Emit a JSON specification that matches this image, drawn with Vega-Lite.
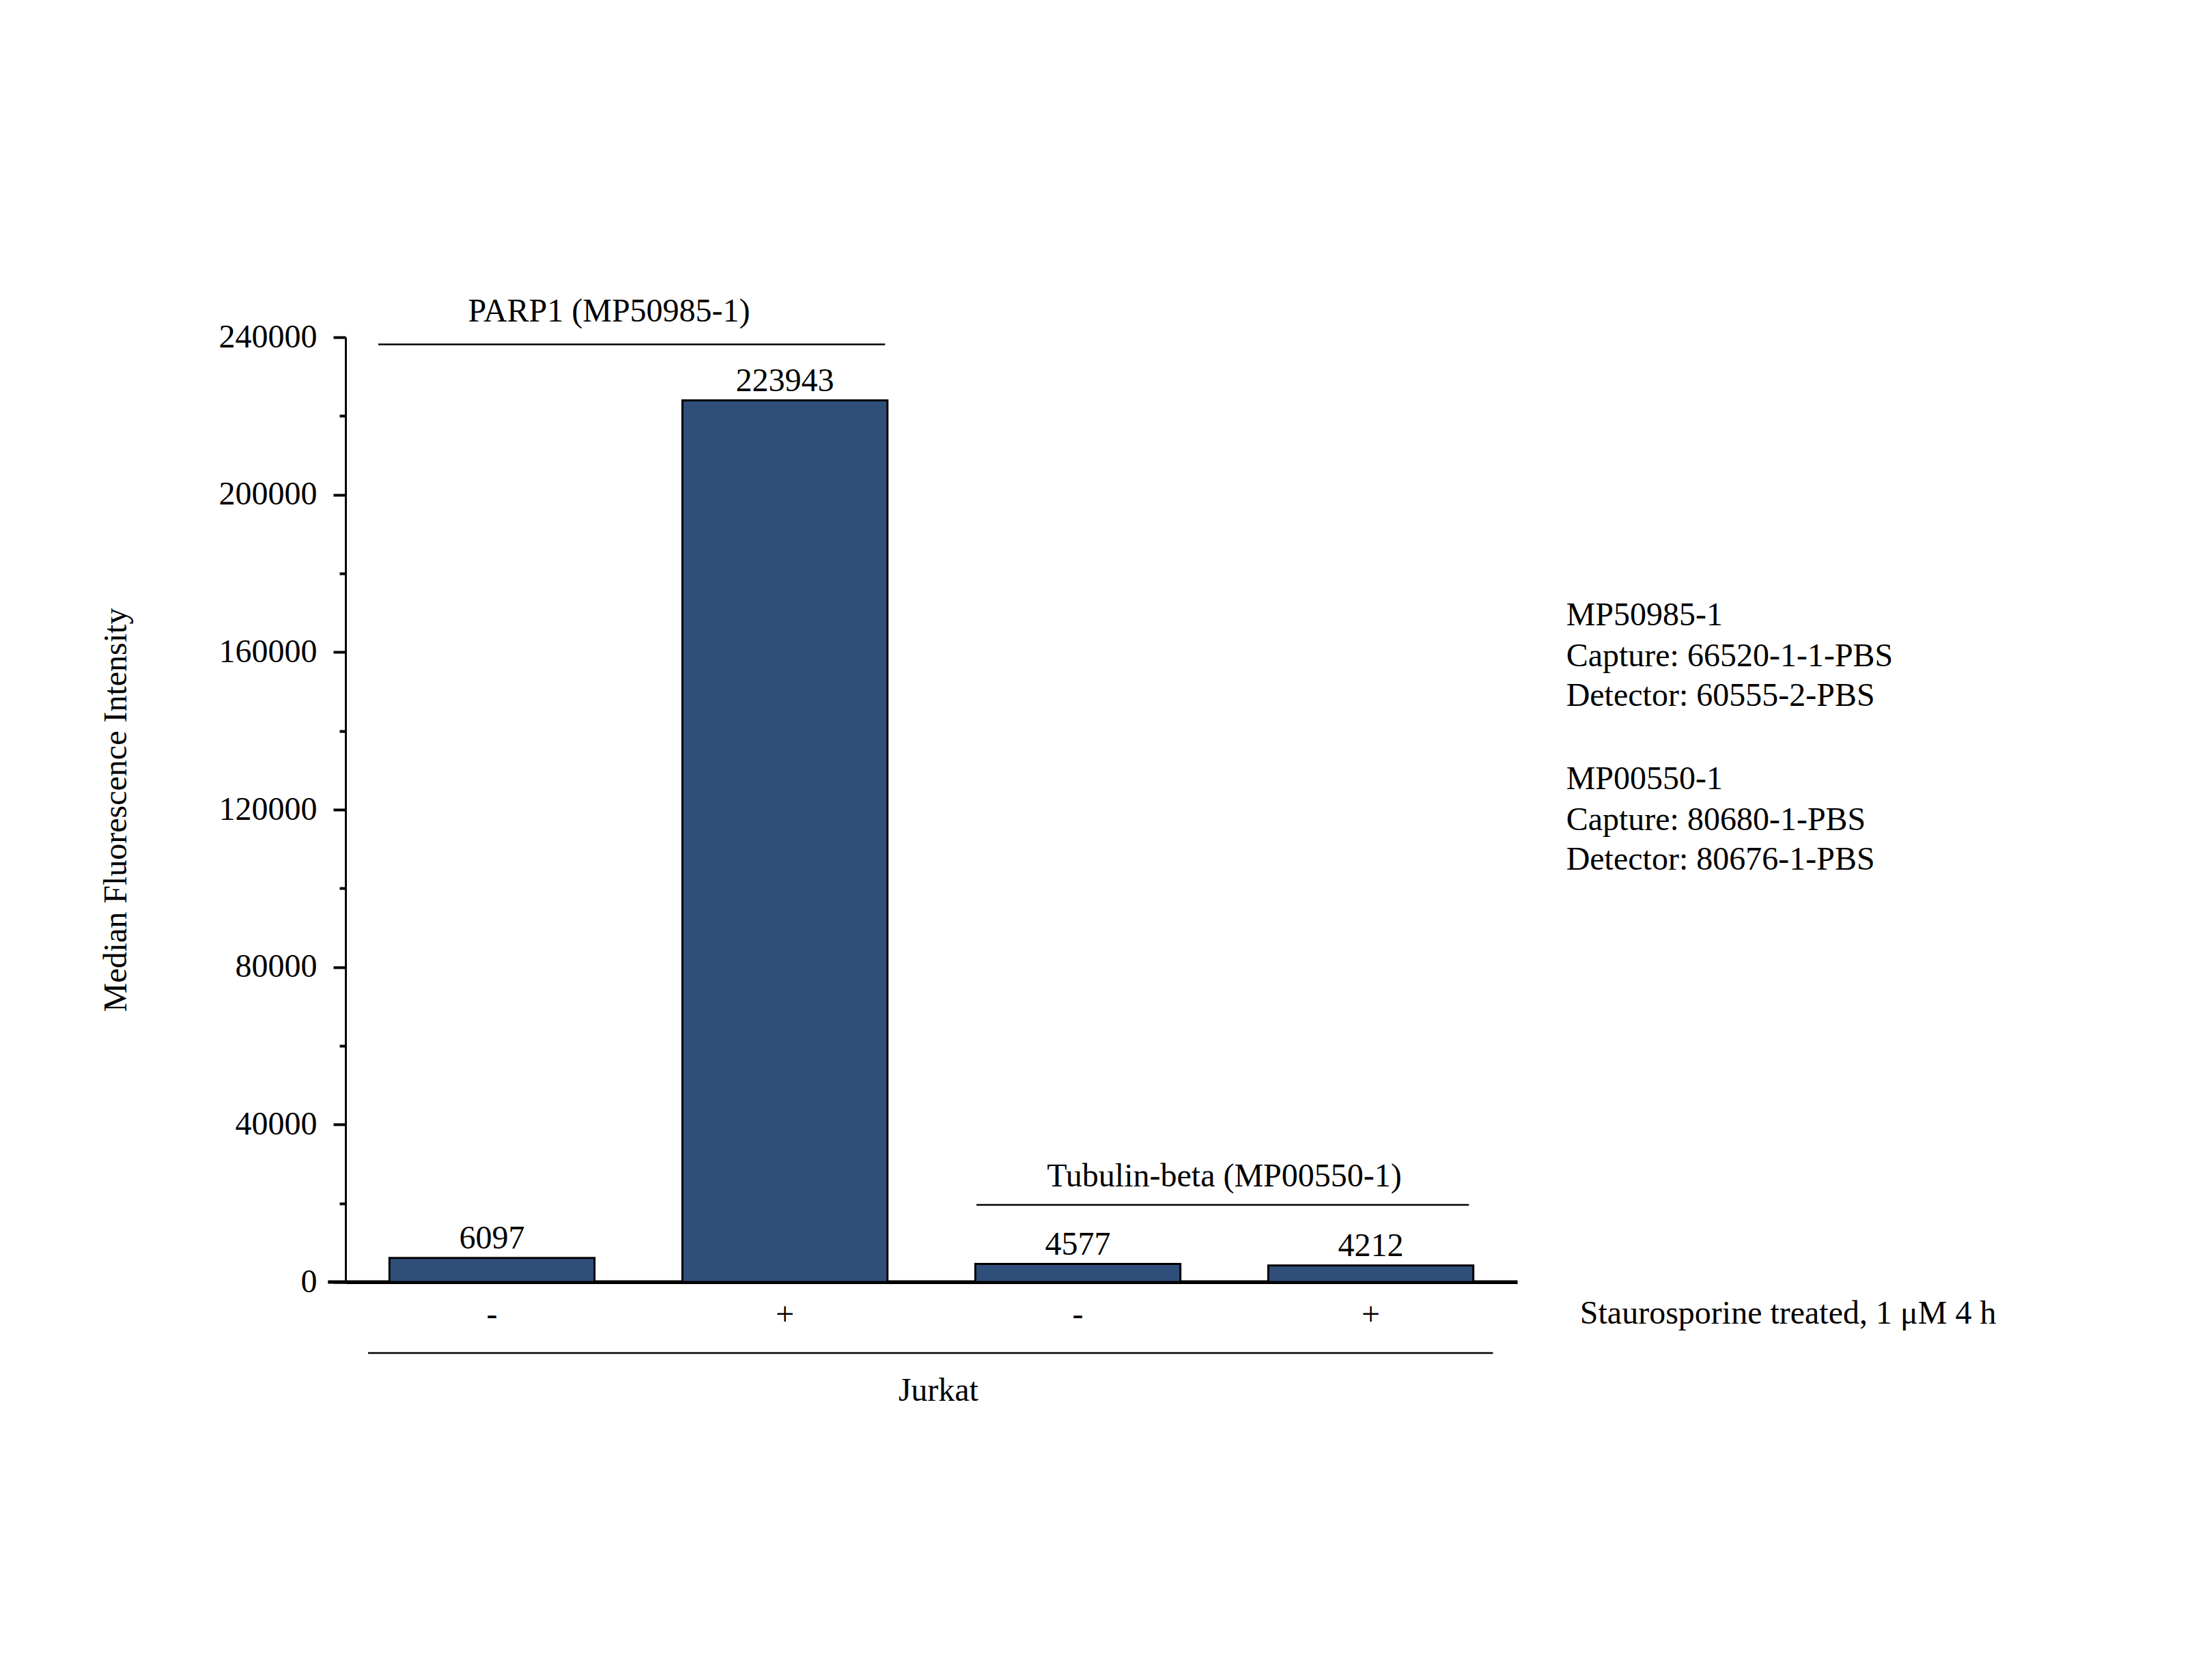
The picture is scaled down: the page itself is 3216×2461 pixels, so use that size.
{
  "$schema": "https://vega.github.io/schema/vega-lite/v6.json",
  "width": 1716,
  "height": 1384,
  "autosize": {"type": "none"},
  "padding": {"left": 506, "top": 494, "right": 994, "bottom": 583},
  "background": "white",
  "config": {
    "view": {"stroke": null},
    "font": "Liberation Serif",
    "text": {"font": "Liberation Serif", "fontSize": 48, "color": "black"}
  },
  "datasets": {
    "bars": [
      {"sample": "PARP1 -", "mfi": 6097},
      {"sample": "PARP1 +", "mfi": 223943},
      {"sample": "Tubulin -", "mfi": 4577},
      {"sample": "Tubulin +", "mfi": 4212}
    ],
    "center_text": [
      {"label": "PARP1 (MP50985-1)", "ax": 0.9, "ay": 246400},
      {"label": "Tubulin-beta (MP00550-1)", "ax": 3.0, "ay": 26700},
      {"label": "Jurkat", "ax": 2.024, "ay": -27730}
    ],
    "left_text": [
      {"label": "MP50985-1", "ax": 4.167, "ay": 169300},
      {"label": "Capture: 66520-1-1-PBS", "ax": 4.167, "ay": 158900},
      {"label": "Detector: 60555-2-PBS", "ax": 4.167, "ay": 148700},
      {"label": "MP00550-1", "ax": 4.167, "ay": 127700},
      {"label": "Capture: 80680-1-PBS", "ax": 4.167, "ay": 117300},
      {"label": "Detector: 80676-1-PBS", "ax": 4.167, "ay": 107100},
      {"label": "Staurosporine treated, 1 μM 4 h", "ax": 4.214, "ay": -8145}
    ],
    "rules": [
      {"ax": 0.112, "ax2": 1.842, "ay": 238180},
      {"ax": 2.154, "ax2": 3.835, "ay": 19580},
      {"ax": 0.077, "ax2": 3.917, "ay": -18025}
    ],
    "baseline": [
      {"ax": -0.06, "ax2": 4.0, "ay": 0}
    ]
  },
  "resolve": {"scale": {"x": "independent"}},
  "layer": [
    {
      "data": {"name": "baseline"},
      "mark": {"type": "rule", "color": "black", "strokeWidth": 5},
      "encoding": {
        "x": {"field": "ax", "type": "quantitative", "scale": {"domain": [0, 4], "nice": false, "zero": false}, "axis": null},
        "x2": {"field": "ax2"},
        "y": {
          "field": "ay", "type": "quantitative",
          "scale": {"domain": [0, 240000], "nice": false, "zero": false},
          "axis": {
            "values": [0, 20000, 40000, 60000, 80000, 100000, 120000, 140000, 160000, 180000, 200000, 220000, 240000],
            "format": "d",
            "labelExpr": "datum.value % 40000 === 0 ? datum.label : ''",
            "tickSize": {"condition": {"test": "datum.value % 40000 === 0", "value": 18}, "value": 9},
            "tickWidth": 4,
            "tickColor": "black",
            "domainColor": "black",
            "domainWidth": 3,
            "grid": false,
            "labelFontSize": 48,
            "labelFont": "Liberation Serif",
            "labelColor": "black",
            "labelPadding": 24,
            "title": "Median Fluorescence Intensity",
            "titleFont": "Liberation Serif",
            "titleFontSize": 48,
            "titleFontWeight": "normal",
            "titleColor": "black",
            "titlePadding": 126
          }
        }
      }
    },
    {
      "data": {"name": "bars"},
      "mark": {"type": "bar", "color": "#2f4f7a", "stroke": "black", "strokeWidth": 3},
      "encoding": {
        "x": {
          "field": "sample", "type": "nominal", "sort": null,
          "scale": {"paddingInner": 0.3, "paddingOuter": 0.15},
          "axis": {
            "title": null,
            "labelExpr": "slice(datum.value, -1)",
            "labelAngle": 0,
            "ticks": false,
            "tickSize": 0,
            "domainWidth": 5,
            "domainColor": "black",
            "labelFontSize": 48,
            "labelFont": "Liberation Serif",
            "labelColor": "black",
            "labelPadding": 24
          }
        },
        "y": {"field": "mfi", "type": "quantitative", "scale": {"domain": [0, 240000], "nice": false, "zero": false}}
      }
    },
    {
      "data": {"name": "bars"},
      "mark": {"type": "text", "baseline": "middle", "align": "center", "dy": -28, "fontSize": 48},
      "encoding": {
        "x": {"field": "sample", "type": "nominal", "sort": null, "scale": {"paddingInner": 0.3, "paddingOuter": 0.15}, "axis": null},
        "y": {"field": "mfi", "type": "quantitative", "scale": {"domain": [0, 240000], "nice": false, "zero": false}},
        "text": {"field": "mfi", "type": "quantitative", "format": "d"}
      }
    },
    {
      "data": {"name": "rules"},
      "mark": {"type": "rule", "color": "black", "strokeWidth": 2.5},
      "encoding": {
        "x": {"field": "ax", "type": "quantitative", "scale": {"domain": [0, 4], "nice": false, "zero": false}, "axis": null},
        "x2": {"field": "ax2"},
        "y": {"field": "ay", "type": "quantitative", "scale": {"domain": [0, 240000], "nice": false, "zero": false}}
      }
    },
    {
      "data": {"name": "center_text"},
      "mark": {"type": "text", "align": "center", "baseline": "middle", "fontSize": 48},
      "encoding": {
        "x": {"field": "ax", "type": "quantitative", "scale": {"domain": [0, 4], "nice": false, "zero": false}, "axis": null},
        "y": {"field": "ay", "type": "quantitative", "scale": {"domain": [0, 240000], "nice": false, "zero": false}},
        "text": {"field": "label", "type": "nominal"}
      }
    },
    {
      "data": {"name": "left_text"},
      "mark": {"type": "text", "align": "left", "baseline": "middle", "fontSize": 48},
      "encoding": {
        "x": {"field": "ax", "type": "quantitative", "scale": {"domain": [0, 4], "nice": false, "zero": false}, "axis": null},
        "y": {"field": "ay", "type": "quantitative", "scale": {"domain": [0, 240000], "nice": false, "zero": false}},
        "text": {"field": "label", "type": "nominal"}
      }
    }
  ]
}
